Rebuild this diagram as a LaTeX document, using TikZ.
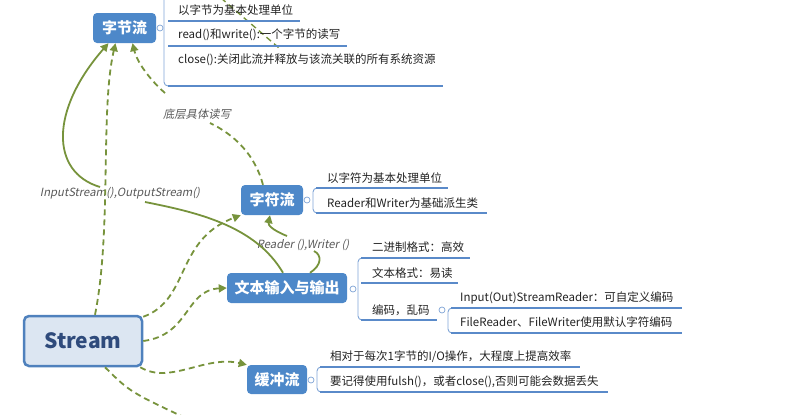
\documentclass[tikz,border=0pt]{standalone}
\usepackage{fontspec}
\setmainfont{Noto Sans CJK SC}
\newfontfamily\cjk{Noto Sans CJK SC}
\newfontfamily\cjkit[FakeSlant=0.2]{Noto Sans CJK SC}
\usetikzlibrary{arrows.meta}
\definecolor{conn}{HTML}{77933C}
\definecolor{boxblue}{HTML}{4D88C9}
\definecolor{ulblue}{HTML}{5A8AC9}
\definecolor{brkblue}{HTML}{7FA4D6}
\definecolor{txt}{HTML}{222222}
\definecolor{labgray}{HTML}{595959}
\definecolor{stfill}{HTML}{DCE6F2}
\definecolor{stborder}{HTML}{4F81BD}
\definecolor{sttext}{HTML}{2F4B7C}
\begin{document}
\begin{tikzpicture}[x=1pt,y=-1pt,
  box/.style={fill=boxblue, rounded corners=4pt, text=white, font=\cjk\bfseries\fontsize{15}{18}\selectfont, inner sep=0pt, minimum height=30pt},
  child/.style={anchor=west, inner sep=0pt, font=\cjk\fontsize{11.5}{13}\selectfont, text=txt},
  ul/.style={draw=ulblue, line width=1.5pt},
  brk/.style={draw=brkblue, line width=0.9pt, rounded corners=4pt},
  tog/.style={circle, draw=brkblue, fill=white, line width=0.7pt, minimum size=6pt, inner sep=0pt},
  cline/.style={draw=conn, line width=1.8pt},
  dline/.style={cline, dash pattern=on 6pt off 4pt},
  tip/.style={-{Triangle[length=8pt,width=8pt]}},
  lab/.style={font=\cjkit\fontsize{11.3}{13}\selectfont, text=labgray, inner sep=0pt}
]
\useasboundingbox (0,0) rectangle (788,415);
\clip (0,0) rectangle (788,415);

% ---------- dashed connector entering from above (its ends lie outside the view)
\coordinate (topA) at (221,-2);
\coordinate (topB) at (279,48);
\draw[dline, line width=1.4pt] (topA) -- (topB);

% ---------- main boxes
\node[box, minimum width=63pt] (zj) at (124.5,28) {字节流};
\node[box, minimum width=62pt] (zf) at (272,200) {字符流};
\node[box, minimum width=120pt] (wb) at (287,288) {文本输入与输出};
\node[box, minimum width=60pt, minimum height=29pt] (hc) at (277,379.5) {缓冲流};
\node[draw=stborder, fill=stfill, line width=2.5pt, rounded corners=5pt,
      minimum width=118pt, minimum height=50pt, inner sep=0pt, text=sttext,
      font=\cjk\bfseries\fontsize{21}{24}\selectfont] (st) at (83,341) {Stream};

% ---------- children of 字节流
\draw[brk] (164,-2) -- (164,86) -- (172,86);
\draw[ul] (168,21) -- (300,21);
\draw[ul] (168,46) -- (347,46);
\draw[ul] (168,86) -- (443,86);
\node[tog] (tzj) at (160,28) {};
\node[child] (zj1) at (178,10) {以字节为基本处理单位};
\node[child] (zj2) at (178,35) {read()和write():一个字节的读写};
\node[child] (zj3) at (178,60) {close():关闭此流并释放与该流关联的所有系统资源};

% ---------- children of 字符流
\draw[brk] (320,188) -- (313,188) -- (313,213) -- (320,213);
\draw[ul] (316,188) -- (448,188);
\draw[ul] (316,213) -- (487,213);
\node[tog] (tzf) at (307,200) {};
\node[child] (zf1) at (327,178) {以字符为基本处理单位};
\node[child] (zf2) at (327,203) {Reader和Writer为基础派生类};

% ---------- children of 文本输入与输出
\draw[brk] (365,258) -- (358,258) -- (358,320) -- (365,320);
\draw[ul] (361,258) -- (470,258);
\draw[ul] (361,283) -- (458,283);
\draw[ul] (361,320) -- (437,320);
\node[tog] (twb) at (353,289) {};
\node[child] (wb1) at (372,247) {二进制格式：高效};
\node[child] (wb2) at (372,273) {文本格式：易读};
\node[child] (wb3) at (372,310) {编码，乱码};

\draw[brk] (455,308) -- (448,308) -- (448,333) -- (455,333);
\draw[ul] (451,308) -- (682,308);
\draw[ul] (451,333) -- (682,333);
\node[tog] (twb3) at (442,310) {};
\node[child] (bm1) at (460,298) {Input(Out)StreamReader：可自定义编码};
\node[child] (bm2) at (460,322) {FileReader、FileWriter使用默认字符编码};

% ---------- children of 缓冲流
\draw[brk] (324,367) -- (317,367) -- (317,392) -- (324,392);
\draw[ul] (320,367) -- (580,367);
\draw[ul] (320,392) -- (608,392);
\node[tog] (thc) at (311,380) {};
\node[child] (hc1) at (330,357) {相对于每次1字节的I/O操作，大程度上提高效率};
\node[child] (hc2) at (330,382) {要记得使用fulsh()，或者close(),否则可能会数据丢失};

% ---------- labels
\node[lab] (l1) at (120,193) {InputStream(),OutputStream()};
\node[lab] (l2) at (197,114) {底层具体读写};
\node[lab] (l3) at (303,245) {Reader (),Writer ()};
\coordinate (ioA) at (145,202);
\coordinate (ioB) at (100,187);
\coordinate (dcA) at (210,123);
\coordinate (dcB) at (165,93);
\coordinate (rwA) at (314,251);
\coordinate (rwB) at (287,236);
\coordinate (off) at (192,421);

% ---------- connectors
\draw[dline, tip] ([xshift=12pt]st.north) .. controls (112,230) and (100,110) .. ([xshift=-9pt]zj.south);
\draw[dline, tip] ([yshift=-2pt]st.north east) .. controls (190,300) and (175,240) .. (zf.south west);
\draw[dline, tip] (st.east) .. controls (190,335) and (185,290) .. (wb.west);
\draw[dline, tip] ([xshift=-3pt]st.south east) .. controls (170,385) and (205,355) .. (hc.north west);
\draw[dline] ([xshift=22pt]st.south) .. controls (130,392) .. (off);

\draw[dline] ([xshift=-9pt]zf.north) .. controls (255,155) and (235,135) .. (dcA);
\draw[dline, tip] (dcB) .. controls (150,80) and (137,62) .. ([xshift=8pt]zj.south);

\draw[cline] ([xshift=-4pt]wb.north) .. controls (255,225) and (195,212) .. (ioA);
\draw[cline, tip] (ioB) .. controls (50,172) and (50,110) .. ([xshift=-16pt]zj.south);

\draw[cline] ([xshift=23pt]wb.north) .. controls (322,265) and (322,255) .. (rwA);
\draw[cline, tip] (rwB) .. controls (272,230) and (268,225) .. ([xshift=-2pt]zf.south);
\end{tikzpicture}
\end{document}
